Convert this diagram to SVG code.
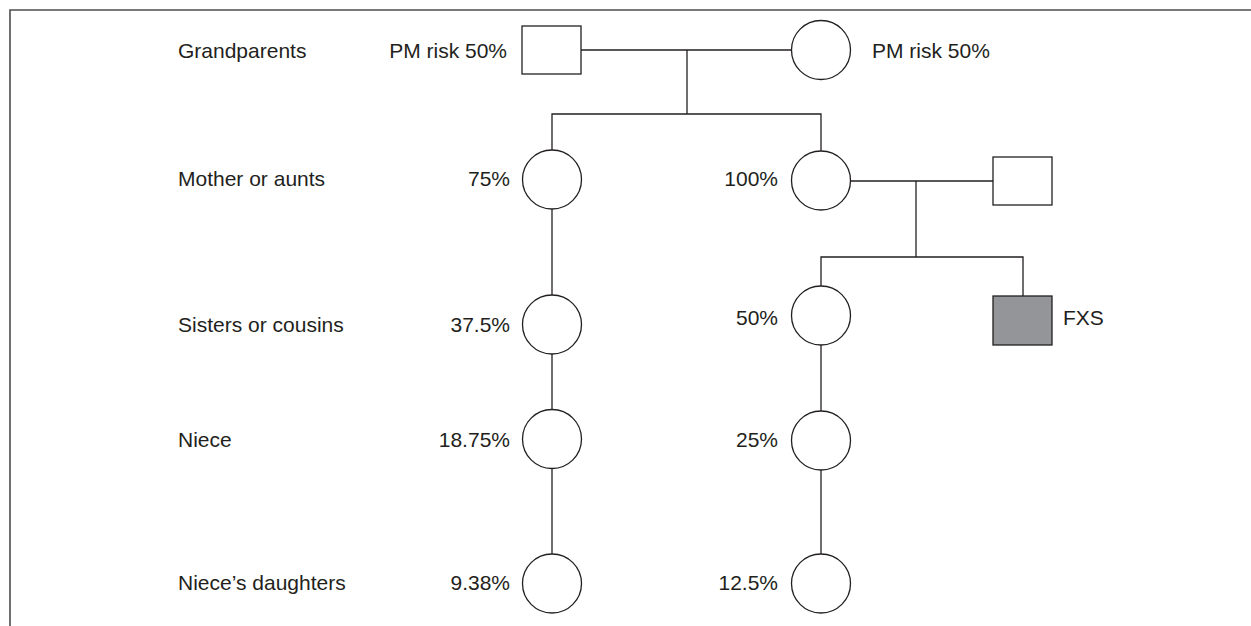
<svg xmlns="http://www.w3.org/2000/svg" width="1251" height="626" viewBox="0 0 1251 626">
<style>
  .ln{fill:none;stroke:#231f20;stroke-width:1.3}
  .sym{fill:#ffffff;stroke:#231f20;stroke-width:1.3}
  .aff{fill:#939598;stroke:#231f20;stroke-width:1.3}
  .t{font-family:"Liberation Sans",Arial,sans-serif;font-size:21px;fill:#231f20}
  .r{text-anchor:end}
  .frame{fill:none;stroke:#4d4d4d;stroke-width:1.6}
</style>
<rect width="1251" height="626" fill="#ffffff"/>
<path class="frame" d="M10,626 V10 H1251"/>
<g id="row-labels">
  <text class="t" x="178" y="58">Grandparents</text>
  <text class="t" x="178" y="186">Mother or aunts</text>
  <text class="t" x="178" y="332">Sisters or cousins</text>
  <text class="t" x="178" y="447">Niece</text>
  <text class="t" x="178" y="590">Niece’s daughters</text>
</g>
<g id="connectors">
  <path class="ln" d="M581,50 H792"/>
  <path class="ln" d="M687,50 V114"/>
  <path class="ln" d="M552,150 V114 H821 V151"/>
  <path class="ln" d="M552,209 V295"/>
  <path class="ln" d="M552,354 V409"/>
  <path class="ln" d="M552,469 V554"/>
  <path class="ln" d="M850,181 H993"/>
  <path class="ln" d="M916,181 V257"/>
  <path class="ln" d="M821,286 V257 H1023 V296"/>
  <path class="ln" d="M821,345 V411"/>
  <path class="ln" d="M821,470 V554"/>
</g>
<g id="grandfather">
  <rect class="sym" x="522" y="26" width="59" height="48"/>
  <text class="t r" x="507" y="58">PM risk 50%</text>
</g>
<g id="grandmother">
  <circle class="sym" cx="821" cy="50" r="29.5"/>
  <text class="t" x="872" y="58">PM risk 50%</text>
</g>
<g id="aunt">
  <circle class="sym" cx="552" cy="179.5" r="29.5"/>
  <text class="t r" x="510" y="186">75%</text>
</g>
<g id="mother">
  <circle class="sym" cx="821" cy="180.5" r="29.5"/>
  <text class="t r" x="778" y="186">100%</text>
</g>
<g id="father">
  <rect class="sym" x="993" y="157" width="59" height="48"/>
</g>
<g id="cousin">
  <circle class="sym" cx="552" cy="324.5" r="29.5"/>
  <text class="t r" x="510" y="332">37.5%</text>
</g>
<g id="sister">
  <circle class="sym" cx="821" cy="315.5" r="29.5"/>
  <text class="t r" x="778" y="325">50%</text>
</g>
<g id="fxs-male">
  <rect class="aff" x="993" y="296" width="59" height="49"/>
  <text class="t" x="1063" y="325">FXS</text>
</g>
<g id="niece-left">
  <circle class="sym" cx="552" cy="439" r="29.5"/>
  <text class="t r" x="510" y="447">18.75%</text>
</g>
<g id="niece-right">
  <circle class="sym" cx="821" cy="440.5" r="29.5"/>
  <text class="t r" x="778" y="447">25%</text>
</g>
<g id="daughter-left">
  <circle class="sym" cx="552" cy="583.5" r="29.5"/>
  <text class="t r" x="510" y="590">9.38%</text>
</g>
<g id="daughter-right">
  <circle class="sym" cx="821" cy="583.5" r="29.5"/>
  <text class="t r" x="778" y="590">12.5%</text>
</g>
</svg>
